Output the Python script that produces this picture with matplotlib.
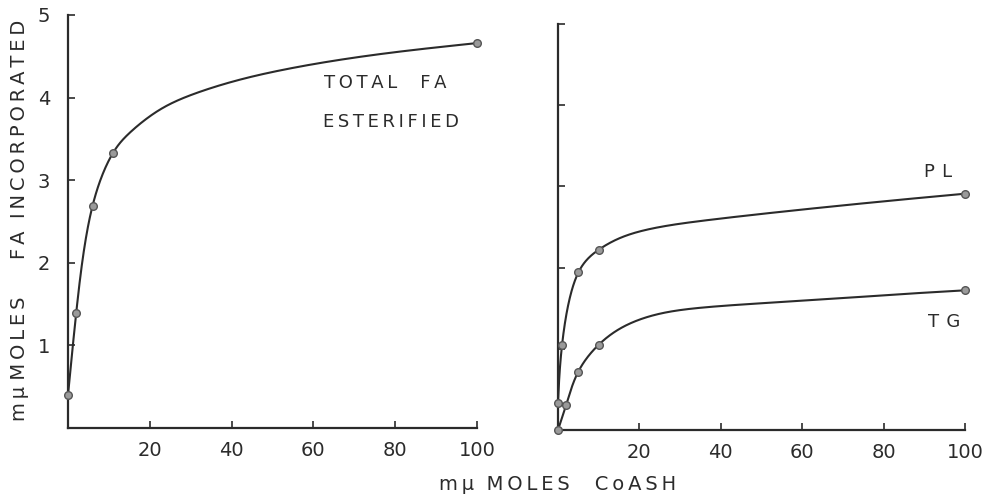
import numpy as np
import matplotlib
matplotlib.use("Agg")
import matplotlib.pyplot as plt

# ---- data ----
# Left panel: total FA esterified
total_x = [0, 2, 6, 11, 100]
total_y = [0.40, 1.39, 2.69, 3.33, 4.66]
# hand-drawn curve shape
total_curve_x = [0, 2, 6, 11, 15, 22, 30, 40, 50, 63, 80, 100]
total_curve_y = [0.40, 1.39, 2.69, 3.33, 3.57, 3.84, 4.03, 4.19, 4.31, 4.43, 4.55, 4.66]

# Right panel: PL and TG
pl_x = [0, 1, 5, 10, 100]
pl_y = [0.33, 1.05, 1.94, 2.22, 2.91]
pl_curve_x = [0, 1, 5, 10, 16, 24, 36, 61, 85, 100]
pl_curve_y = [0.33, 1.05, 1.94, 2.22, 2.38, 2.49, 2.58, 2.72, 2.84, 2.91]

tg_x = [0, 2, 5, 10, 100]
tg_y = [0.0, 0.31, 0.72, 1.05, 1.72]
tg_curve_x = [0, 2, 5, 10, 16, 24, 36, 61, 85, 100]
tg_curve_y = [0.0, 0.31, 0.72, 1.05, 1.27, 1.42, 1.51, 1.595, 1.675, 1.72]

x_ticks = [20, 40, 60, 80, 100]
y_ticks = [1, 2, 3, 4, 5]

INK = "#2b2b2b"
FONT = "DejaVu Sans"


def natural_spline(t, v, ts):
    t = np.asarray(t, float)
    v = np.asarray(v, float)
    n = len(t)
    h = np.diff(t)
    A = np.zeros((n, n))
    b = np.zeros(n)
    A[0, 0] = 1
    A[-1, -1] = 1
    for i in range(1, n - 1):
        A[i, i - 1] = h[i - 1]
        A[i, i] = 2 * (h[i - 1] + h[i])
        A[i, i + 1] = h[i]
        b[i] = 6 * ((v[i + 1] - v[i]) / h[i] - (v[i] - v[i - 1]) / h[i - 1])
    M = np.linalg.solve(A, b)
    idx = np.clip(np.searchsorted(t, ts) - 1, 0, n - 2)
    t0, t1 = t[idx], t[idx + 1]
    hh = t1 - t0
    a = (t1 - ts) / hh
    c = (ts - t0) / hh
    return (a * v[idx] + c * v[idx + 1]
            + ((a**3 - a) * M[idx] + (c**3 - c) * M[idx + 1]) * hh**2 / 6)


def smooth_curve(cx, cy):
    # parametric spline in screen-like proportions (chord length)
    sx = np.asarray(cx, float) / 100.0
    sy = np.asarray(cy, float) / 5.0
    d = np.hypot(np.diff(sx), np.diff(sy))
    t = np.concatenate([[0], np.cumsum(np.sqrt(d))])
    ts = np.linspace(0, t[-1], 600)
    return natural_spline(t, cx, ts), natural_spline(t, cy, ts)


def spaced(s, sep="\u2009"):
    return sep.join(s)


fig = plt.figure(figsize=(9.86, 5.03), dpi=100)
fig.patch.set_facecolor("white")

axL = fig.add_axes([68 / 986, 75 / 503, (477 - 68) / 986, (428 - 15) / 503])
axR = fig.add_axes([558 / 986, 73 / 503, (965 - 558) / 986, (430 - 24) / 503])


def style(ax, ylabels):
    ax.set_xlim(0, 100)
    ax.set_ylim(0, 5)
    for s in ["top", "right"]:
        ax.spines[s].set_visible(False)
    for s in ["left", "bottom"]:
        ax.spines[s].set_linewidth(1.6)
        ax.spines[s].set_color(INK)
    ax.set_xticks(x_ticks)
    ax.set_xticklabels([str(v) for v in x_ticks], fontsize=14, family=FONT, color=INK)
    ax.set_yticks(y_ticks)
    if ylabels:
        ax.set_yticklabels([str(v) for v in y_ticks], fontsize=14, family=FONT, color=INK)
    else:
        ax.set_yticklabels([])
    ax.tick_params(direction="in", length=5, width=1.2, color=INK)
    ax.tick_params(axis="x", pad=9)
    ax.tick_params(axis="y", pad=13)


style(axL, True)
style(axR, False)


def draw(ax, cx, cy, px, py):
    xs, ys = smooth_curve(cx, cy)
    ax.plot(xs, ys, color=INK, lw=1.5, clip_on=False, zorder=3)
    ax.plot(px, py, "o", ms=5.5, mfc="#9a9a9a", mec="#555555", mew=1.0,
            clip_on=False, zorder=4)


draw(axL, total_curve_x, total_curve_y, total_x, total_y)
draw(axR, pl_curve_x, pl_curve_y, pl_x, pl_y)
draw(axR, tg_curve_x, tg_curve_y, tg_x, tg_y)

axL.text(62.5, 4.18, spaced("TOTAL") + "    " + spaced("FA"), fontsize=13,
         family=FONT, color=INK, va="center", ha="left")
axL.text(62.3, 3.70, spaced("ESTERIFIED"), fontsize=13, family=FONT,
         color=INK, va="center", ha="left")
axR.text(90, 3.18, spaced("PL", "\u2009\u2009"), fontsize=13, family=FONT, color=INK,
         va="center", ha="left")
axR.text(91, 1.33, spaced("TG", "\u2009\u2009"), fontsize=13, family=FONT, color=INK,
         va="center", ha="left")

fig.text(20 / 986, 1 - 220 / 503,
         "m\u2009\u03bc " + spaced("MOLES") + "      " + spaced("FA") + "  "
         + spaced("INCORPORATED"),
         rotation=90, fontsize=14, family=FONT, color=INK, va="center", ha="center")
fig.text(558 / 986, 1 - 485 / 503,
         "m\u2009\u03bc  " + spaced("MOLES") + "    " + spaced("CoASH"),
         fontsize=14, family=FONT, color=INK, va="center", ha="center")

fig.savefig("out.png", dpi=100, facecolor="white")
